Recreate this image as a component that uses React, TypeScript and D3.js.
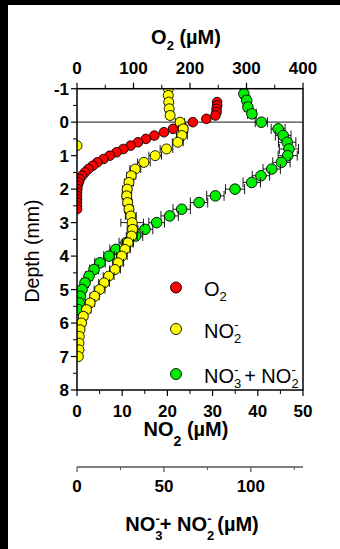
import React from 'react';
import * as d3 from 'd3';

// [depth (mm), value (µM), error (µM)]
const o2Data: [number, number, number][] = [
  [-0.6, 248, 4], [-0.5, 248, 4], [-0.4, 247, 4], [-0.3, 247, 4], [-0.2, 245, 5],
  [-0.1, 229, 6], [0, 205, 6], [0.1, 185, 6], [0.2, 170, 6], [0.3, 154, 6],
  [0.4, 137, 6], [0.5, 122, 6], [0.6, 108, 6], [0.7, 95, 6], [0.8, 82, 6],
  [0.9, 70, 6], [1.0, 58, 6], [1.1, 47, 5], [1.2, 36, 5], [1.3, 28, 5],
  [1.4, 20, 5], [1.5, 14, 4], [1.6, 9, 4], [1.7, 5, 4], [1.8, 3, 3],
  [1.9, 1, 3], [2.0, 0.5, 3], [2.1, 0, 3], [2.2, 0, 3], [2.3, 0, 3],
  [2.4, 0, 3], [2.5, 0, 3], [2.6, 0, 3],
];

const no2Data: [number, number, number][] = [
  [-1.0, 20.2, 0.8], [-0.8, 20.2, 0.8], [-0.6, 20.3, 0.8], [-0.4, 20.4, 0.8], [-0.2, 20.6, 0.8],
  [0, 22.8, 1.0], [0.2, 23.5, 1.0], [0.4, 23.2, 1.2], [0.6, 22.3, 1.2], [0.7, 0, 0],
  [0.8, 19.8, 1.4], [1.0, 17.3, 1.4], [1.2, 14.8, 1.4], [1.4, 12.9, 1.2], [1.6, 12.0, 1.0],
  [1.8, 11.5, 1.0], [2.0, 11.1, 1.0], [2.2, 11.0, 1.0], [2.4, 11.2, 1.0], [2.6, 11.5, 1.0],
  [2.8, 11.9, 1.2], [3.0, 12.2, 2.5], [3.2, 12.3, 1.2], [3.4, 12.1, 1.2], [3.6, 11.3, 1.2],
  [3.8, 10.6, 1.2], [4.0, 9.9, 1.2], [4.2, 9.1, 1.2], [4.4, 8.4, 1.2], [4.6, 7.0, 1.2],
  [4.8, 6.0, 1.2], [5.0, 5.0, 1.2], [5.2, 3.9, 1.0], [5.4, 2.9, 1.0], [5.6, 2.1, 1.0],
  [5.8, 1.4, 0.8], [6.0, 1.0, 0.8], [6.2, 0.66, 0.6], [6.4, 0.5, 0.5], [6.6, 0.44, 0.5],
  [6.8, 0.44, 0.5], [7.0, 0.3, 0.5],
];

const noxData: [number, number, number][] = [
  [-0.85, 96.0, 2], [-0.65, 97.6, 2], [-0.45, 98.3, 2], [-0.25, 100.6, 2.5], [0, 106.0, 3.5],
  [0.2, 115.7, 4], [0.4, 118.6, 4.5], [0.6, 120.9, 5], [0.8, 121.9, 5.5], [1.0, 121.2, 5.5],
  [1.2, 117.6, 5], [1.4, 112.0, 5], [1.6, 105.8, 5], [1.8, 100.5, 5], [2.0, 90.9, 5.5],
  [2.2, 79.6, 5], [2.4, 70.2, 5], [2.6, 60.2, 5], [2.8, 53.3, 5], [3.0, 45.8, 4.5],
  [3.2, 39.1, 4.5], [3.4, 33.8, 4], [3.6, 28.2, 4], [3.8, 22.4, 3.5], [4.0, 18.4, 3],
  [4.2, 13.2, 3], [4.4, 9.8, 2.5], [4.6, 6.9, 2], [4.8, 4.6, 2], [5.0, 2.9, 1.5],
  [5.2, 1.9, 1], [5.4, 1.3, 1], [5.6, 0.7, 0.5],
];

const depthTicks = [-1, 0, 1, 2, 3, 4, 5, 6, 7, 8];
const o2Ticks = [0, 100, 200, 300, 400];
const no2Ticks = [0, 10, 20, 30, 40, 50];
const noxTicks = [0, 50, 100];

const FONT = 'Liberation Sans, Arial, sans-serif';

const left = 77;
const right = 303;
const top = 88.7;
const bottom = 390;
const noxAxisY = 467;

const y = d3.scaleLinear().domain([-1, 8]).range([top, bottom]);
const xO2 = d3.scaleLinear().domain([0, 400]).range([left, right]);
const xNO2 = d3.scaleLinear().domain([0, 50]).range([left, right]);
const xNOx = d3.scaleLinear().domain([0, 130]).range([left, right]);

type Series = {
  data: [number, number, number][];
  x: d3.ScaleLinear<number, number>;
  fill: string;
  r: number;
  cap: number;
};

const series: Series[] = [
  { data: o2Data, x: xO2, fill: '#ff0000', r: 4.8, cap: 3 },
  { data: noxData, x: xNOx, fill: '#00ee00', r: 5.3, cap: 5 },
  { data: no2Data, x: xNO2, fill: '#ffff00', r: 5, cap: 4 },
];

const Marks = ({ s }: { s: Series }) => (
  <g>
    {s.data.map(([dep, v, e], i) => {
      const cy = y(dep);
      const x0 = s.x(v - e);
      const x1 = s.x(v + e);
      return (
        <g key={i}>
          {e > 0 && (
            <g stroke="#000" strokeWidth={0.9}>
              <line x1={x0} x2={x1} y1={cy} y2={cy} />
              <line x1={x0} x2={x0} y1={cy - s.cap} y2={cy + s.cap} />
              <line x1={x1} x2={x1} y1={cy - s.cap} y2={cy + s.cap} />
            </g>
          )}
          <circle cx={s.x(v)} cy={cy} r={s.r} fill={s.fill} stroke="#000" strokeWidth={0.9} />
        </g>
      );
    })}
  </g>
);

export default function App() {
  const minorDepth = d3.range(-0.5, 8, 1);
  const minorO2 = d3.range(50, 400, 100);
  const minorNO2 = d3.range(5, 50, 10);
  const minorNOx = [25, 75, 125];

  return (
    <div style={{ position: 'absolute', left: 0, top: 0 }}>
      <svg width={340} height={549} style={{ display: 'block' }} fontFamily={FONT}>
        <rect x={0} y={0} width={340} height={549} fill="#fff" />
        <rect x={0} y={0} width={340} height={5} fill="#000" />
        <rect x={0} y={0} width={8} height={549} fill="#000" />

        <defs>
          <clipPath id="plotClip">
            <rect x={left} y={top} width={right - left} height={bottom - top} />
          </clipPath>
        </defs>

        {/* zero depth line */}
        <line x1={left} x2={right} y1={y(0)} y2={y(0)} stroke="#444" strokeWidth={1.2} />

        <g clipPath="url(#plotClip)">
          {series.map((s, i) => (
            <Marks key={i} s={s} />
          ))}
        </g>

        {/* frame */}
        <rect x={left} y={top} width={right - left} height={bottom - top} fill="none" stroke="#000" strokeWidth={1.5} />

        {/* top axis O2 */}
        {o2Ticks.map((t) => (
          <g key={t}>
            <line x1={xO2(t)} x2={xO2(t)} y1={top} y2={top - 6} stroke="#000" strokeWidth={1.2} />
            <text x={xO2(t)} y={74} textAnchor="middle" fontSize={17} fontWeight="bold">
              {t}
            </text>
          </g>
        ))}
        {minorO2.map((t) => (
          <line key={t} x1={xO2(t)} x2={xO2(t)} y1={top} y2={top - 4} stroke="#000" strokeWidth={1} />
        ))}
        <text x={186} y={44} textAnchor="middle" fontSize={20} fontWeight="bold">
          O<tspan fontSize={13} dy={6}>2</tspan>
          <tspan dy={-6}> (µM)</tspan>
        </text>

        {/* left axis depth */}
        {depthTicks.map((t) => (
          <g key={t}>
            <line x1={left} x2={left - 6} y1={y(t)} y2={y(t)} stroke="#000" strokeWidth={1.2} />
            <text x={69} y={y(t) + 6} textAnchor="end" fontSize={17} fontWeight="bold">
              {t}
            </text>
          </g>
        ))}
        {minorDepth.map((t) => (
          <line key={t} x1={left} x2={left - 4} y1={y(t)} y2={y(t)} stroke="#000" strokeWidth={1} />
        ))}
        <text transform="translate(39,251) rotate(-90)" textAnchor="middle" fontSize={19.5}>
          Depth (mm)
        </text>

        {/* bottom axis NO2 */}
        {no2Ticks.map((t) => (
          <g key={t}>
            <line x1={xNO2(t)} x2={xNO2(t)} y1={bottom} y2={bottom + 6} stroke="#000" strokeWidth={1.2} />
            <text x={xNO2(t)} y={416.5} textAnchor="middle" fontSize={17} fontWeight="bold">
              {t}
            </text>
          </g>
        ))}
        {minorNO2.map((t) => (
          <line key={t} x1={xNO2(t)} x2={xNO2(t)} y1={bottom} y2={bottom + 4} stroke="#000" strokeWidth={1} />
        ))}
        <text x={186} y={436} textAnchor="middle" fontSize={20} fontWeight="bold">
          NO<tspan fontSize={14} dy={10}>2</tspan>
          <tspan dy={-10}> (µM)</tspan>
        </text>

        {/* second bottom axis NO3 + NO2 */}
        <line x1={left} x2={right} y1={noxAxisY} y2={noxAxisY} stroke="#555" strokeWidth={1.5} />
        {noxTicks.map((t) => (
          <g key={t}>
            <line x1={xNOx(t)} x2={xNOx(t)} y1={noxAxisY} y2={noxAxisY + 5} stroke="#555" strokeWidth={1.2} />
            <text x={xNOx(t)} y={491.5} textAnchor="middle" fontSize={17} fontWeight="bold">
              {t}
            </text>
          </g>
        ))}
        {minorNOx.map((t) => (
          <line key={t} x1={xNOx(t)} x2={xNOx(t)} y1={noxAxisY} y2={noxAxisY + 3} stroke="#555" strokeWidth={1} />
        ))}
        <text x={192} y={531} textAnchor="middle" fontSize={20} fontWeight="bold">
          NO<tspan fontSize={13} dy={9}>3</tspan>
          <tspan fontSize={13} dx={-7} dy={-17}>-</tspan>
          <tspan dy={8}>+ NO</tspan>
          <tspan fontSize={13} dy={9}>2</tspan>
          <tspan fontSize={13} dx={-7} dy={-17}>-</tspan>
          <tspan dy={8}> (µM)</tspan>
        </text>

        {/* legend */}
        <g fontSize={20}>
          <circle cx={176} cy={287.5} r={5.5} fill="#ff0000" stroke="#000" strokeWidth={0.9} />
          <text x={204} y={296}>
            O<tspan fontSize={13} dy={5}>2</tspan>
          </text>
          <circle cx={176} cy={329} r={5.5} fill="#ffff00" stroke="#000" strokeWidth={0.9} />
          <text x={204} y={338}>
            NO<tspan fontSize={13} dy={5}>2</tspan>
            <tspan fontSize={13} dx={-7} dy={-14}>-</tspan>
          </text>
          <circle cx={176} cy={374} r={5.5} fill="#00ee00" stroke="#000" strokeWidth={0.9} />
          <text x={204} y={383}>
            NO<tspan fontSize={13} dy={5}>3</tspan>
            <tspan fontSize={13} dx={-7} dy={-14}>-</tspan>
            <tspan dy={9}> + NO</tspan>
            <tspan fontSize={13} dy={5}>2</tspan>
            <tspan fontSize={13} dx={-7} dy={-14}>-</tspan>
          </text>
        </g>
      </svg>
    </div>
  );
}
